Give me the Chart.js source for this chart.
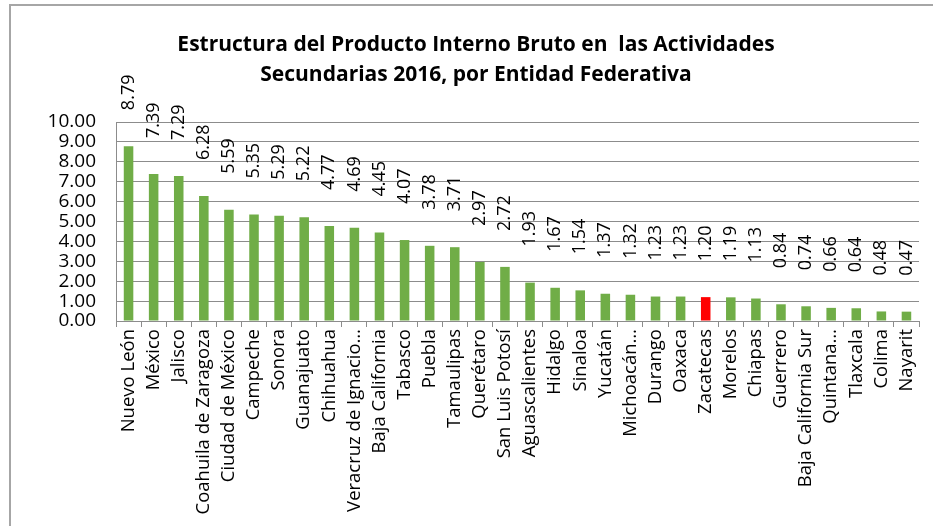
<!doctype html>
<html lang="es">
<head>
    <meta charset="utf-8">
    <title>Estructura del PIB - Actividades Secundarias 2016</title>
    <script src="https://cdn.jsdelivr.net/npm/chart.js"></script>
    <style>
        html, body { margin: 0; padding: 0; background: #fff; overflow: hidden; }
        #frame {
            position: absolute; left: 9px; top: 4px;
            width: 940px; height: 540px;
            border: 2px solid #a6a6a6; background: #fff;
        }
        #chart { display: block; }
    </style>
</head>
<body>
<div id="frame">
    <canvas id="chart" width="930" height="520"></canvas>
</div>
<script>
    // datos
    var entidades = ['Nuevo León', 'México', 'Jalisco', 'Coahuila de Zaragoza', 'Ciudad de México',
        'Campeche', 'Sonora', 'Guanajuato', 'Chihuahua', 'Veracruz de Ignacio…', 'Baja California',
        'Tabasco', 'Puebla', 'Tamaulipas', 'Querétaro', 'San Luis Potosí', 'Aguascalientes',
        'Hidalgo', 'Sinaloa', 'Yucatán', 'Michoacán…', 'Durango', 'Oaxaca', 'Zacatecas',
        'Morelos', 'Chiapas', 'Guerrero', 'Baja California Sur', 'Quintana…', 'Tlaxcala',
        'Colima', 'Nayarit'];
    var porcentajes = [8.79, 7.39, 7.29, 6.28, 5.59, 5.35, 5.29, 5.22, 4.77, 4.69, 4.45,
        4.07, 3.78, 3.71, 2.97, 2.72, 1.93, 1.67, 1.54, 1.37, 1.32, 1.23, 1.23, 1.20,
        1.19, 1.13, 0.84, 0.74, 0.66, 0.64, 0.48, 0.47];
    var destacada = 'Zacatecas';
    var tituloLineas = ['Estructura del Producto Interno Bruto en  las Actividades',
        'Secundarias 2016, por Entidad Federativa'];

    var colores = entidades.map(function (e) {
        return e === destacada ? '#ff0000' : '#70ad47';
    });

    // etiquetas de valor verticales sobre las barras
    var etiquetasValor = {
        id: 'etiquetasValor',
        afterDatasetsDraw: function (chart) {
            var ctx = chart.ctx;
            var meta = chart.getDatasetMeta(0);
            ctx.save();
            ctx.font = '18px "Open Sans"';
            ctx.fillStyle = '#000';
            ctx.textAlign = 'left';
            ctx.textBaseline = 'middle';
            meta.data.forEach(function (bar, i) {
                ctx.save();
                ctx.translate(bar.x, bar.y - 36);
                ctx.rotate(-Math.PI / 2);
                ctx.fillText(porcentajes[i].toFixed(2), 0, 0);
                ctx.restore();
            });
            ctx.restore();
        }
    };

    var ctx = document.getElementById('chart');
    var myChart = new Chart(ctx, {
        type: 'bar',
        data: {
            labels: entidades,
            datasets: [{
                data: porcentajes,
                backgroundColor: colores,
                borderWidth: 0,
                categoryPercentage: 1,
                barPercentage: 0.38
            }]
        },
        plugins: [etiquetasValor],
        options: {
            responsive: false,
            animation: false,
            layout: {
                padding: {top: 14, right: 22, left: 22, bottom: 0}
            },
            scales: {
                x: {
                    grid: {
                        display: true,
                        drawOnChartArea: false,
                        drawTicks: true,
                        tickLength: 6,
                        color: '#8c8c8c'
                    },
                    border: {display: true, color: '#8c8c8c'},
                    ticks: {
                        autoSkip: false,
                        minRotation: 90,
                        maxRotation: 90,
                        padding: 2,
                        color: '#000',
                        font: {family: '"Open Sans"', size: 18.5}
                    },
                    afterFit: function (scale) {
                        scale.height = 205;
                    }
                },
                y: {
                    min: 0,
                    max: 10,
                    ticks: {
                        stepSize: 1,
                        autoSkip: false,
                        padding: 20,
                        color: '#000',
                        font: {family: '"Open Sans"', size: 19},
                        callback: function (v) {
                            return Number(v).toFixed(2);
                        }
                    },
                    grid: {color: '#8c8c8c', drawTicks: false},
                    border: {display: true, color: '#8c8c8c'},
                    afterFit: function (scale) {
                        scale.width = 83;
                    }
                }
            },
            plugins: {
                legend: {display: false},
                tooltip: {enabled: false},
                title: {
                    display: true,
                    text: tituloLineas,
                    color: '#000',
                    font: {family: '"Open Sans"', size: 21, weight: 'bold', lineHeight: 1.43},
                    padding: {top: 10, bottom: 32}
                }
            }
        }
    });
</script>
</body>
</html>
